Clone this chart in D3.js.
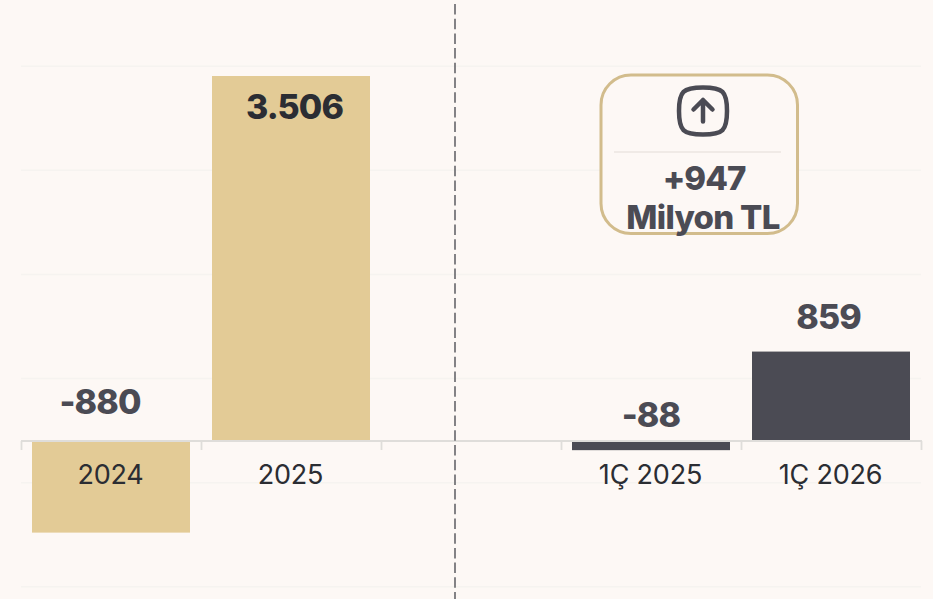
<!DOCTYPE html>
<html><head><meta charset="utf-8">
<script src="https://cdn.jsdelivr.net/npm/d3@7/dist/d3.min.js"></script>
<style>html,body{margin:0;padding:0;background:#fdf8f5;overflow:hidden}svg{display:block;font-family:Inter,sans-serif}</style>
</head><body><svg id="c" width="933" height="599"></svg>
<script>
const categories = ["2024","2025","","1Ç 2025","1Ç 2026"];
const bandKeys = ["a","b","gap","c","d"];
const values = [-880,3506,null,-88,859];
const valueLabels = ["-880","3.506","","-88","859"];
const gridValues = [-1400,-400,600,1600,2600,3600];
const gold="#e3cb96", dark="#4b4b54";
const barColors=[gold,gold,null,dark,dark];
const labelColors=["#4b4b54","#2b2d33",null,"#4b4b54","#4b4b54"];
const labelDx=[-11,3.5,0,0,-2.5];
const calloutLines=["+947","Milyon TL"];

const svg=d3.select("#c");
const x=d3.scaleBand().domain(bandKeys).range([21,921]).paddingInner(0).paddingOuter(0);
const y=d3.scaleLinear().domain([0,3506]).range([441,76]);
const inset=11;

svg.append("g").selectAll("line").data(gridValues).join("line")
 .attr("x1",21).attr("x2",921).attr("y1",d=>y(d)).attr("y2",d=>y(d))
 .attr("stroke","#f6f3f0").attr("stroke-width",1.5);

const rows=bandKeys.map((k,i)=>({k,v:values[i],i})).filter(d=>d.v!==null);
svg.append("g").selectAll("rect").data(rows).join("rect")
 .attr("x",d=>x(d.k)+inset).attr("width",x.bandwidth()-2*inset)
 .attr("y",d=>y(Math.max(0,d.v))).attr("height",d=>Math.abs(y(d.v)-y(0)))
 .attr("fill",d=>barColors[d.i]);

const edges=bandKeys.map(k=>x(k)).concat([x.range()[1]]);
const ax=svg.append("g").attr("stroke","#dfddda").attr("fill","none");
ax.append("line").attr("x1",21).attr("x2",922).attr("y1",441).attr("y2",441).attr("stroke-width",2.2);
ax.selectAll("line.t").data(edges).join("line").attr("class","t")
 .attr("x1",d=>d+.5).attr("x2",d=>d+.5).attr("y1",441).attr("y2",450).attr("stroke-width",1.8);

svg.append("g").selectAll("text").data(categories).join("text")
 .attr("x",(d,i)=>x(bandKeys[i])+x.bandwidth()/2-0.5).attr("y",484)
 .attr("text-anchor","middle").attr("font-size",27).attr("letter-spacing",-0.2).attr("fill","#2b2d33").text(d=>d);

const labelY=d=>d.k==="a"?414:d.k==="b"?119:d.k==="c"?427:329;
svg.append("g").selectAll("text").data(rows).join("text")
 .attr("x",d=>x(d.k)+x.bandwidth()/2+labelDx[d.i]).attr("y",labelY)
 .attr("text-anchor","middle").attr("font-size",34).attr("font-weight",800).attr("letter-spacing",-0.9)
 .attr("fill",d=>labelColors[d.i]).text(d=>valueLabels[d.i]);

svg.append("line").attr("x1",455).attr("x2",455).attr("y1",4).attr("y2",599)
 .attr("stroke","#6f6e72").attr("stroke-width",1.7).attr("stroke-dasharray","10.5 4.2");

svg.append("rect").attr("x",601).attr("y",75).attr("width",196.5).attr("height",158.5).attr("rx",30)
 .attr("fill","#fdf8f5").attr("stroke","#d2bc8c").attr("stroke-width",3);
svg.append("line").attr("x1",614).attr("x2",781).attr("y1",152).attr("y2",152).attr("stroke","#ebe6e1").attr("stroke-width",1.5);
const ic=svg.append("g").attr("fill","none").attr("stroke","#4b4b54").attr("stroke-linecap","round").attr("stroke-linejoin","round");
ic.append("path").attr("stroke-width",4.5).attr("d","M703 87.5 C723 87.5 727 91.5 727 111 C727 130.5 723 134.5 703 134.5 C683 134.5 679 130.5 679 111 C679 91.5 683 87.5 703 87.5 Z");
ic.append("path").attr("stroke-width",4.5).attr("d","M703 121.5 V100 M693.5 109.5 L703 100 L712.5 109.5");
svg.append("g").selectAll("text").data(calloutLines).join("text")
 .attr("x",(d,i)=>i?703:704).attr("y",(d,i)=>i?229:190).attr("text-anchor","middle")
 .attr("font-size",33).attr("font-weight",800).attr("letter-spacing",(d,i)=>i?-0.7:-1).attr("fill","#4b4b54").text(d=>d);
</script></body></html>
